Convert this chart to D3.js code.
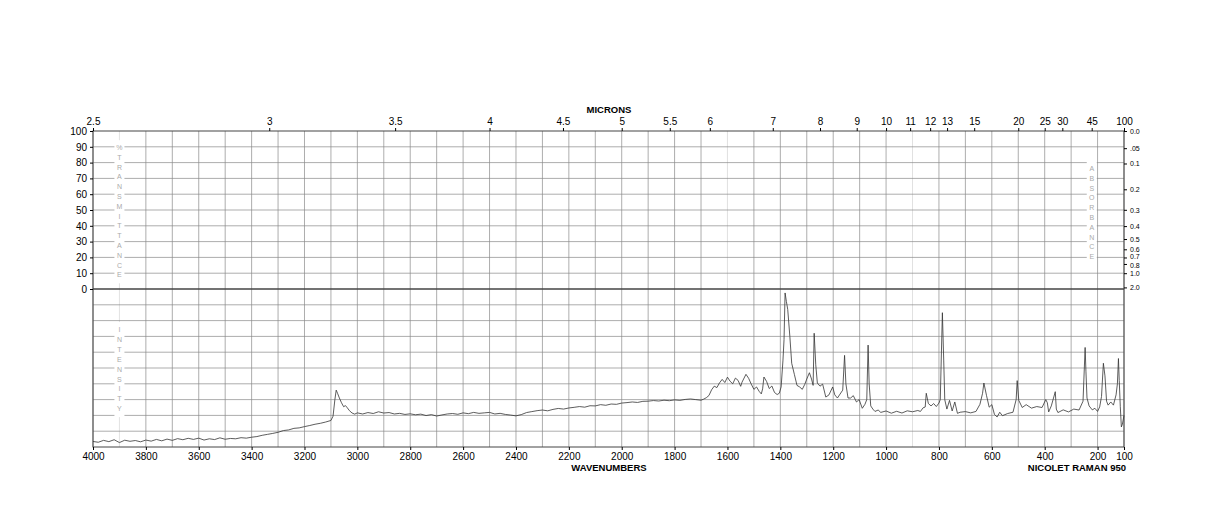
<!DOCTYPE html>
<html><head><meta charset="utf-8">
<script src="https://cdn.jsdelivr.net/npm/d3@7"></script>
<style>body{margin:0;background:#fff}text{font-family:"Liberation Sans",Arial,sans-serif}</style>
</head><body><svg id="c" width="1224" height="528"></svg>
<script>
const micronTicks=[2.5,3,3.5,4,4.5,5,5.5,6,7,8,9,10,11,12,13,15,20,25,30,45,100];
const wnTicks=[4000,3800,3600,3400,3200,3000,2800,2600,2400,2200,2000,1800,1600,1400,1200,1000,800,600,400,200,100];
const transTicks=[0,10,20,30,40,50,60,70,80,90,100];
const absTicks=["0.0",".05","0.1","0.2","0.3","0.4","0.5","0.6","0.7","0.8","1.0","2.0"];
// Raman spectrum, rows of 10 aligned between the two arrays
const wn=[
4000,3980,3960,3940,3920,3900,3880,3860,3840,3820,
3800,3780,3760,3740,3720,3700,3680,3660,3640,3620,
3600,3580,3560,3540,3520,3500,3480,3460,3440,3420,
3400,3380,3360,3340,3320,3300,3280,3260,3240,3220,
3200,3180,3160,3140,3120,3100,3092,3085,3080,3075,
3068,3060,3052,3045,3038,3030,3020,3010,3000,2980,
2960,2940,2920,2900,2880,2860,2840,2820,2800,2780,
2760,2740,2720,2700,2680,2660,2640,2620,2600,2580,
2560,2540,2520,2500,2480,2460,2440,2420,2400,2380,
2360,2340,2320,2300,2280,2260,2240,2220,2200,2180,
2160,2140,2120,2100,2080,2060,2040,2020,2000,1980,
1960,1940,1920,1900,1880,1860,1840,1820,1800,1780,
1760,1740,1720,1700,1690,1680,1670,1660,1650,1640,
1630,1620,1610,1600,1590,1580,1570,1560,1550,1545,
1530,1520,1510,1500,1490,1480,1472,1467,1462,1452,
1442,1432,1422,1412,1404,1397,1390,1386,1382,1377,
1372,1364,1357,1347,1337,1327,1317,1308,1300,1290,
1282,1276,1272,1266,1260,1250,1240,1228,1216,1202,
1194,1184,1174,1164,1157,1152,1144,1134,1124,1112,
1102,1090,1080,1073,1068,1064,1058,1050,1042,1030,
1020,1000,980,960,940,920,900,880,870,860,
852,848,840,830,820,810,800,795,787,782,
778,770,760,750,740,730,720,700,680,660,
645,635,630,620,610,600,590,580,570,560,
540,520,508,504,498,485,470,450,430,410,
396,390,385,375,360,356,350,330,310,290,
270,255,247,244,240,232,220,210,200,192,
185,178,172,166,160,150,140,130,125,121,
118,114,110,106,100];
const intensity=[
3.5,3.0,4.2,3.4,4.6,2.8,4.3,3.6,4.1,3.3,
4.4,3.7,4.8,3.9,5.0,4.2,5.3,4.6,5.5,4.8,
5.6,4.4,5.2,4.7,5.8,4.9,5.4,5.2,5.9,5.6,
6.2,6.6,7.4,8.0,8.6,9.3,10.4,10.8,11.8,12.1,
12.9,13.6,14.4,15.0,15.8,16.8,19.5,30,36,34,
31,28,25.5,26.2,24.8,23,21.5,20.8,21.6,20.9,
21.8,21.2,22.3,21.5,21.8,20.9,21.3,20.6,21.0,20.4,
20.8,19.9,20.5,19.6,20.3,20.9,21.2,20.7,21.6,21.1,
21.9,21.3,21.6,21.9,20.9,21.3,20.6,20.2,19.7,20.5,
21.8,22.4,23.0,23.4,22.9,23.8,24.4,24.0,24.7,25.1,
25.6,25.2,26.1,26.0,26.8,26.4,27.2,27.0,27.8,28.1,
28.5,28.2,28.9,29.0,29.4,29.1,29.6,29.3,29.8,29.5,
30.1,30.4,30.0,29.6,30.3,31.2,32.6,36.2,38.5,37.6,
40.6,42.8,40.8,44.2,41.6,40.0,43.6,42.2,38.4,41.0,
46.0,43.5,39.8,36.5,38.0,35.2,33.6,36.8,44.3,41.5,
37.0,38.6,34.5,33.2,34.0,38,55,68,97.5,92,
87,70,53,46,39,38,36.5,39.5,43,47,
43,39,72,52,40.5,38.5,39.8,31.6,33,38,
33,31,33.5,36,58,40,31,31,32.5,28.5,
30,24.5,27,30,64.5,40,26,24,22.5,23.4,
21.9,22.8,21.4,22.6,21.5,22.9,22.3,23.1,22.5,24.8,
25.3,34,27.5,26,27.5,25.6,27.8,30,85,55,
30,24,29.5,22.8,28.5,21.3,22,22.4,21.6,22.5,
27,34,40.5,32.5,25.2,26.8,20.6,19,22,19.8,
21.2,22,30,42,29.5,25,26.8,24.6,25.6,25,
30,28,22.2,26,35,24,21.8,23.5,22.2,24.0,
23.4,29,63,48,31,26,23.5,24.5,22.5,25.4,
32,53,45,29,26.5,28.5,26.5,33,40,56,
42,25.5,12.7,14.5,20];

const svg=d3.select("#c");
const L=93,R=1124,T=131,M=289,B=447;
const x=d3.scaleLinear().domain([4000,100]).range([L,R]);
const yT=d3.scaleLinear().domain([0,100]).range([M,T]);
const yI=d3.scaleLinear().domain([0,100]).range([B,M]);
const g=svg.append("g");
const vgrid=d3.range(100,4001,100);
g.selectAll(".vg").data(vgrid).join("line").attr("x1",d=>x(d)).attr("x2",d=>x(d)).attr("y1",T).attr("y2",B)
 .attr("stroke",d=>(d===3900||d===1600||d===900)?"#d4d4d4":"#8a8a8a").attr("stroke-width",0.7);
const hg=d3.range(10,100,10);
g.selectAll(".hgt").data(hg).join("line").attr("x1",L).attr("x2",R).attr("y1",d=>yT(d)).attr("y2",d=>yT(d)).attr("stroke","#8a8a8a").attr("stroke-width",0.7);
g.selectAll(".hgi").data(hg).join("line").attr("x1",L).attr("x2",R).attr("y1",d=>yI(d)).attr("y2",d=>yI(d)).attr("stroke","#8a8a8a").attr("stroke-width",0.7);
g.append("rect").attr("x",L).attr("y",T).attr("width",R-L).attr("height",B-T).attr("fill","none").attr("stroke","#444").attr("stroke-width",1);
g.append("line").attr("x1",L).attr("x2",R).attr("y1",M).attr("y2",M).attr("stroke","#444").attr("stroke-width",1.6);
const fs="10px";
svg.append("g").attr("transform",`translate(0,${B})`).call(d3.axisBottom(x).tickValues(wnTicks).tickSize(3).tickFormat(d3.format("d")))
 .call(a=>{a.select(".domain").remove();a.selectAll("text").style("font-size",fs).attr("fill","#000");});
svg.append("g").attr("transform",`translate(0,${T})`).call(d3.axisTop(x).tickValues(micronTicks.map(m=>10000/m)).tickSize(3).tickFormat((d,i)=>micronTicks[i]))
 .call(a=>{a.select(".domain").remove();a.selectAll("text").style("font-size",fs).attr("fill","#000");});
svg.append("g").attr("transform",`translate(${L},0)`).call(d3.axisLeft(yT).tickValues(transTicks).tickSize(3))
 .call(a=>{a.select(".domain").remove();a.selectAll("text").style("font-size",fs).attr("fill","#000");});
const absVals=absTicks.map(Number);
svg.append("g").attr("transform",`translate(${R},0)`).call(d3.axisRight(yT).tickValues(absVals.map(a=>100*Math.pow(10,-a))).tickSize(3).tickFormat((d,i)=>absTicks[i]))
 .call(a=>{a.select(".domain").remove();a.selectAll("text").style("font-size","7px").attr("fill","#000")
   .attr("dy",(d,i)=>absTicks[i]==="0.7"?"0.1em":absTicks[i]==="0.8"?"0.45em":"0.32em");});
svg.append("text").attr("x",609).attr("y",113).attr("text-anchor","middle").style("font-size","9.5px").style("font-weight","bold").text("MICRONS");
svg.append("text").attr("x",609).attr("y",471).attr("text-anchor","middle").style("font-size","9.5px").style("font-weight","bold").text("WAVENUMBERS");
svg.append("text").attr("x",R+2).attr("y",471).attr("text-anchor","end").style("font-size","9.5px").style("font-weight","bold").text("NICOLET RAMAN 950");
function vlabel(str,cx,y0,step){
  const n=str.length;
  svg.append("rect").attr("x",cx-5).attr("y",y0-step).attr("width",10).attr("height",n*step+step*0.6).attr("fill","#fff");
  str.split("").forEach((ch,i)=>svg.append("text").attr("x",cx).attr("y",y0+i*step).attr("text-anchor","middle").style("font-size","7px").attr("fill","#aaa").text(ch));
}
vlabel("%TRANSMITTANCE",x(3900),150,9.8);
vlabel("INTENSITY",x(3900),332,9.9);
vlabel("ABSORBANCE",x(222),171,9.8);
const pts=wn.map((w,i)=>[w,intensity[i]]);
svg.append("path").datum(pts).attr("fill","none").attr("stroke","#333").attr("stroke-width",0.8)
 .attr("d",d3.line().x(d=>x(d[0])).y(d=>yI(d[1])));
</script></body></html>
